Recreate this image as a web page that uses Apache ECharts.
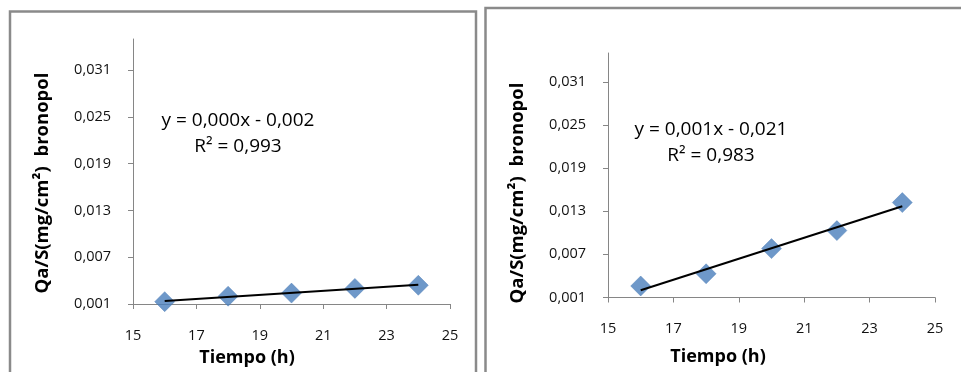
<!DOCTYPE html>
<html>
<head>
<meta charset="utf-8">
<title>Qa/S bronopol vs tiempo</title>
<script src="https://cdn.jsdelivr.net/npm/echarts@6/dist/echarts.min.js"></script>
<style>
  html, body { margin: 0; padding: 0; background: #ffffff; }
  #chart { width: 961px; height: 372px; }
</style>
</head>
<body>
<div id="chart"></div>
<script>
// Sampling times (h)
const hours = [16, 18, 20, 22, 24];
// Cumulative amount per area, Qa/S (mg/cm²), two experiments
const qaLeft = [0.0013, 0.0020, 0.0024, 0.0030, 0.0034];
const qaRight = [0.0026, 0.0043, 0.0078, 0.0103, 0.0142];
// Axis ticks
const xTicks = [15, 17, 19, 21, 23, 25];
const yTicks = [0.001, 0.007, 0.013, 0.019, 0.025, 0.031];
// Trendline annotations
const eqLeft = ['y = 0,000x - 0,002', 'R² = 0,993'];
const eqRight = ['y = 0,001x - 0,021', 'R² = 0,983'];

const FONT = '"Open Sans", Lato, sans-serif';
const AXIS_GRAY = '#868686';
const MARKER_BLUE = '#4a7ebb';

// Least-squares line across the sampled range
function linearFit(xs, ys) {
  const n = xs.length;
  const mx = xs.reduce((a, b) => a + b, 0) / n;
  const my = ys.reduce((a, b) => a + b, 0) / n;
  let sxy = 0, sxx = 0;
  for (let i = 0; i < n; i++) {
    sxy += (xs[i] - mx) * (ys[i] - my);
    sxx += (xs[i] - mx) * (xs[i] - mx);
  }
  const slope = sxy / sxx;
  const icpt = my - slope * mx;
  const x0 = Math.min(...xs), x1 = Math.max(...xs);
  return [[x0, icpt + slope * x0], [x1, icpt + slope * x1]];
}

const comma = (v, d) => v.toFixed(d).replace('.', ',');

function xAxisFor(gridIndex) {
  return {
    type: 'value', gridIndex, min: 15, max: 25,
    axisLine: { show: true, lineStyle: { color: AXIS_GRAY, width: 1 } },
    axisTick: { show: true, length: 5, inside: false, customValues: xTicks, lineStyle: { color: AXIS_GRAY } },
    axisLabel: { customValues: xTicks, margin: 24, color: '#111', fontFamily: FONT, fontSize: 14.5,
                 formatter: v => String(v) },
    splitLine: { show: false }
  };
}
function yAxisFor(gridIndex) {
  return {
    type: 'value', gridIndex, min: 0.001, max: 0.035,
    axisLine: { show: true, onZero: false, lineStyle: { color: AXIS_GRAY, width: 1 } },
    axisTick: { show: true, length: 5, inside: false, customValues: yTicks, lineStyle: { color: AXIS_GRAY } },
    axisLabel: { customValues: yTicks, margin: 22, color: '#111', fontFamily: FONT, fontSize: 14.5,
                 formatter: v => comma(v, 3) },
    splitLine: { show: false }
  };
}

function scatterSeries(idx, ys) {
  return {
    type: 'scatter', xAxisIndex: idx, yAxisIndex: idx,
    symbol: 'diamond', symbolSize: 20,
    itemStyle: { color: MARKER_BLUE, borderColor: '#4678b4', borderWidth: 0.5 },
    data: hours.map((h, i) => [h, ys[i]]),
    z: 2, silent: true
  };
}
function trendSeries(idx, ys) {
  return {
    type: 'line', xAxisIndex: idx, yAxisIndex: idx,
    showSymbol: false, symbol: 'none',
    lineStyle: { color: '#000', width: 2 },
    data: linearFit(hours, ys),
    z: 3, silent: true
  };
}

function text(x, y, str, opts) {
  return Object.assign({
    type: 'text', x, y,
    style: Object.assign({ text: str, fill: '#000', font: '19px ' + FONT, align: 'center', verticalAlign: 'middle' },
      opts && opts.style)
  }, opts && opts.extra);
}

const chart = echarts.init(document.getElementById('chart'), null, { renderer: 'canvas' });

chart.setOption({
  animation: false,
  backgroundColor: '#ffffff',
  grid: [
    { left: 133, top: 39, width: 317, height: 265 },
    { left: 608, top: 53, width: 327, height: 244.5 }
  ],
  xAxis: [xAxisFor(0), xAxisFor(1)],
  yAxis: [yAxisFor(0), yAxisFor(1)],
  series: [
    scatterSeries(0, qaLeft), trendSeries(0, qaLeft),
    scatterSeries(1, qaRight), trendSeries(1, qaRight)
  ],
  graphic: [
    // chart area frames
    { type: 'rect', shape: { x: 10, y: 11.5, width: 466, height: 380 },
      style: { fill: 'none', stroke: '#8a8a8a', lineWidth: 2.5 }, silent: true },
    { type: 'rect', shape: { x: 485.5, y: 8, width: 490, height: 380 },
      style: { fill: 'none', stroke: '#8a8a8a', lineWidth: 2.5 }, silent: true },
    // axis titles
    text(247, 358, 'Tiempo (h)', { style: { font: 'bold 18px ' + FONT } }),
    text(718, 357, 'Tiempo (h)', { style: { font: 'bold 18px ' + FONT } }),
    text(43, 183, 'Qa/S(mg/cm²)  bronopol', { style: { font: 'bold 18.5px ' + FONT }, extra: { rotation: Math.PI / 2 } }),
    text(518, 193, 'Qa/S(mg/cm²)  bronopol', { style: { font: 'bold 18.5px ' + FONT }, extra: { rotation: Math.PI / 2 } }),
    // trendline equations
    text(238, 121, eqLeft[0]),
    text(238, 147, eqLeft[1]),
    text(711, 130, eqRight[0]),
    text(711, 156, eqRight[1])
  ]
});
</script>
</body>
</html>
